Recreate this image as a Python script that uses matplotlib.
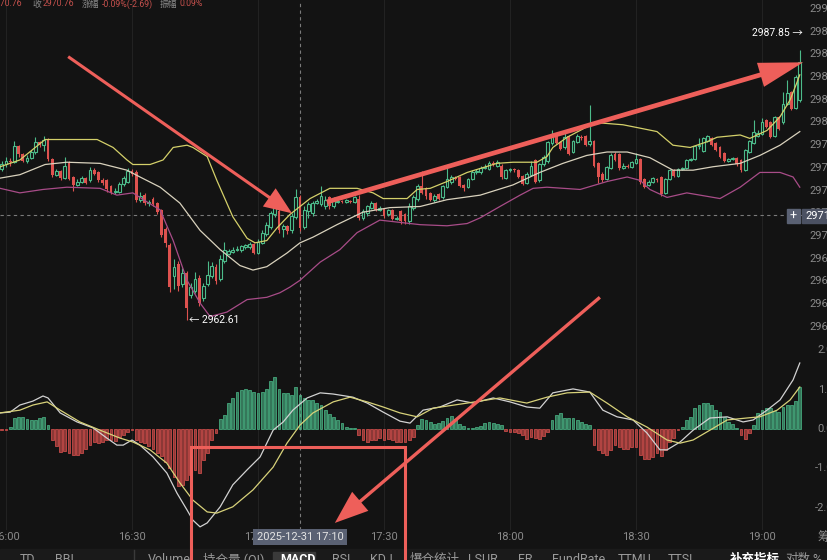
import matplotlib
matplotlib.use("Agg")
import matplotlib.pyplot as plt
import matplotlib.patches as mpatches
from matplotlib.colors import to_rgb
import numpy as np

# 1-minute candles, x = minutes counted from 16:00 (-1 = 15:59 ... 189 = 19:09)
minutes = np.arange(-1, 190)

opens = [
    2975.9, 2976.3, 2976.6, 2976.5, 2977.9, 2977.2, 2976.6, 2976.9, 2977.4, 2978.3,
    2978.0, 2978.5, 2976.8, 2975.4, 2975.7, 2975.1, 2976.4, 2975.2, 2974.5, 2974.8,
    2975.1, 2974.9, 2975.8, 2975.6, 2974.9, 2974.9, 2974.4, 2973.9, 2973.9, 2974.6,
    2974.8, 2975.7, 2975.6, 2973.2, 2973.6, 2972.9, 2973.3, 2972.9, 2972.3, 2970.6,
    2969.2, 2966.5, 2967.5, 2965.8, 2966.7, 2964.8, 2965.2, 2966.3, 2964.5, 2965.8,
    2966.5, 2967.3, 2966.2, 2967.8, 2968.4, 2968.6, 2968.8, 2968.8, 2969.0, 2969.0,
    2969.3, 2968.5, 2969.4, 2970.2, 2970.8, 2971.9, 2972.2, 2970.6, 2970.9, 2970.5,
    2971.7, 2973.4, 2970.8, 2972.2, 2972.0, 2972.9, 2972.8, 2972.6, 2973.4, 2972.6,
    2973.0, 2973.1, 2973.0, 2973.1, 2973.0, 2973.3, 2971.6, 2972.0, 2972.5, 2972.9,
    2972.3, 2972.4, 2971.9, 2972.3, 2971.5, 2972.2, 2971.9, 2971.3, 2972.5, 2973.3,
    2974.4, 2974.2, 2973.8, 2973.2, 2973.7, 2973.4, 2974.3, 2974.8, 2975.1, 2975.2,
    2974.5, 2974.3, 2975.0, 2975.6, 2975.6, 2976.0, 2975.9, 2976.4, 2976.2, 2976.2,
    2975.1, 2975.8, 2975.9, 2975.8, 2975.3, 2974.7, 2975.4, 2976.7, 2974.9, 2976.3,
    2976.6, 2978.2, 2979.0, 2978.3, 2977.8, 2978.8, 2977.4, 2978.3, 2978.7, 2978.8,
    2978.1, 2978.4, 2976.4, 2975.5, 2975.0, 2976.0, 2977.2, 2977.2, 2976.0, 2976.2,
    2976.1, 2976.4, 2976.8, 2975.0, 2974.5, 2974.8, 2975.0, 2975.2, 2973.8, 2975.0,
    2975.8, 2975.3, 2975.9, 2976.0, 2976.7, 2976.8, 2977.9, 2977.5, 2978.4, 2978.6,
    2978.2, 2977.8, 2977.3, 2976.6, 2976.8, 2976.9, 2976.7, 2975.8, 2977.4, 2978.2,
    2978.8, 2979.0, 2980.2, 2980.0, 2978.8, 2980.5, 2980.0, 2981.6, 2982.7, 2981.3,
    2982.0,
]
highs = [
    2976.6, 2977.0, 2976.9, 2978.4, 2978.0, 2977.3, 2977.1, 2977.6, 2978.7, 2978.4,
    2978.8, 2978.6, 2976.9, 2975.9, 2975.8, 2977.0, 2976.6, 2975.3, 2975.0, 2975.3,
    2975.2, 2976.1, 2976.0, 2975.7, 2975.1, 2975.0, 2974.5, 2974.2, 2974.8, 2975.3,
    2976.0, 2975.9, 2975.8, 2973.9, 2973.8, 2973.2, 2973.4, 2973.0, 2972.4, 2970.8,
    2969.4, 2968.0, 2967.8, 2967.2, 2966.9, 2965.9, 2966.8, 2966.6, 2965.9, 2967.8,
    2967.7, 2967.5, 2968.3, 2969.5, 2968.9, 2969.0, 2969.1, 2969.2, 2969.3, 2969.5,
    2969.4, 2969.7, 2970.5, 2971.2, 2972.2, 2973.2, 2973.2, 2971.1, 2971.0, 2972.0,
    2974.1, 2973.6, 2972.6, 2973.0, 2973.1, 2973.3, 2974.4, 2973.5, 2973.5, 2973.4,
    2973.3, 2973.2, 2973.3, 2973.2, 2973.5, 2973.6, 2972.4, 2972.7, 2973.1, 2973.0,
    2972.6, 2972.5, 2972.4, 2972.4, 2971.8, 2972.3, 2972.0, 2972.9, 2973.6, 2974.6,
    2975.7, 2974.3, 2973.9, 2973.7, 2973.8, 2974.5, 2976.0, 2975.4, 2975.3, 2975.3,
    2974.6, 2975.1, 2975.8, 2975.9, 2976.2, 2976.3, 2976.6, 2976.6, 2976.7, 2976.3,
    2975.9, 2976.0, 2976.0, 2975.9, 2975.4, 2975.6, 2976.6, 2976.8, 2976.4, 2977.1,
    2978.4, 2979.3, 2979.1, 2978.4, 2979.2, 2978.9, 2978.5, 2979.0, 2978.9, 2978.9,
    2981.5, 2978.5, 2976.5, 2975.6, 2976.2, 2977.3, 2977.4, 2977.3, 2976.4, 2976.3,
    2976.6, 2977.3, 2976.9, 2975.1, 2974.9, 2975.2, 2975.1, 2975.3, 2975.1, 2975.9,
    2975.9, 2976.0, 2976.1, 2976.8, 2976.9, 2978.0, 2978.6, 2978.7, 2978.9, 2978.7,
    2978.3, 2977.9, 2977.4, 2976.9, 2977.0, 2977.0, 2976.8, 2977.7, 2978.5, 2980.2,
    2979.3, 2980.4, 2980.3, 2980.1, 2980.6, 2980.6, 2982.7, 2983.7, 2982.8, 2984.2,
    2986.4,
]
lows = [
    2975.7, 2976.1, 2976.2, 2976.4, 2977.0, 2976.5, 2976.4, 2976.8, 2977.2, 2977.8,
    2977.5, 2976.6, 2975.2, 2975.3, 2974.9, 2975.0, 2974.9, 2974.0, 2974.4, 2974.7,
    2974.6, 2974.8, 2975.4, 2974.8, 2974.5, 2973.9, 2973.7, 2973.7, 2973.8, 2974.4,
    2974.7, 2975.3, 2973.0, 2973.0, 2972.7, 2972.6, 2972.6, 2971.9, 2969.9, 2969.0,
    2965.1, 2965.3, 2965.2, 2965.5, 2962.6, 2964.5, 2965.0, 2963.8, 2964.3, 2965.6,
    2966.3, 2965.8, 2966.0, 2967.6, 2968.3, 2968.5, 2968.7, 2968.6, 2968.9, 2968.9,
    2968.4, 2968.4, 2969.3, 2970.0, 2970.6, 2971.7, 2970.3, 2969.9, 2970.2, 2970.3,
    2971.5, 2970.4, 2970.6, 2971.6, 2971.8, 2972.8, 2972.6, 2972.4, 2972.4, 2972.5,
    2972.9, 2972.9, 2972.9, 2972.9, 2972.9, 2971.4, 2971.4, 2971.8, 2972.4, 2972.2,
    2972.2, 2971.6, 2971.8, 2971.4, 2971.4, 2971.1, 2971.1, 2971.1, 2972.3, 2973.1,
    2973.7, 2973.3, 2973.1, 2973.0, 2973.2, 2973.3, 2974.2, 2974.6, 2974.9, 2974.3,
    2974.0, 2974.2, 2974.9, 2975.5, 2975.5, 2975.9, 2975.8, 2976.2, 2976.1, 2975.0,
    2975.0, 2975.6, 2975.6, 2975.1, 2974.5, 2974.6, 2975.3, 2974.7, 2974.8, 2976.2,
    2976.4, 2978.0, 2978.1, 2977.6, 2977.7, 2977.1, 2977.3, 2978.2, 2978.5, 2977.9,
    2977.9, 2976.1, 2974.7, 2974.8, 2974.9, 2975.9, 2976.6, 2975.8, 2975.9, 2976.0,
    2976.0, 2976.3, 2974.6, 2974.2, 2974.4, 2974.7, 2974.8, 2973.5, 2973.7, 2974.9,
    2975.2, 2975.2, 2975.8, 2975.9, 2976.6, 2976.7, 2977.7, 2977.4, 2978.3, 2977.9,
    2977.5, 2976.9, 2976.5, 2976.5, 2976.7, 2976.2, 2975.6, 2975.7, 2977.3, 2978.1,
    2978.7, 2978.9, 2979.5, 2978.6, 2978.7, 2979.3, 2979.9, 2981.5, 2981.1, 2981.2,
    2981.8,
]
closes = [
    2976.3, 2976.6, 2976.5, 2977.9, 2977.2, 2976.6, 2976.9, 2977.4, 2978.3, 2978.0,
    2978.5, 2976.8, 2975.4, 2975.7, 2975.1, 2976.2, 2975.0, 2974.5, 2974.8, 2975.1,
    2974.7, 2975.8, 2975.5, 2974.9, 2974.7, 2974.1, 2973.9, 2974.0, 2974.6, 2975.1,
    2975.7, 2975.5, 2973.2, 2973.5, 2972.9, 2973.0, 2972.8, 2972.1, 2970.1, 2969.4,
    2965.5, 2967.3, 2965.6, 2966.7, 2963.7, 2965.5, 2966.2, 2964.1, 2965.6, 2966.6,
    2967.4, 2966.0, 2968.0, 2968.8, 2968.7, 2968.8, 2968.9, 2969.1, 2969.2, 2969.3,
    2968.5, 2969.5, 2970.3, 2971.0, 2972.0, 2972.8, 2970.5, 2970.9, 2970.4, 2971.8,
    2973.4, 2970.7, 2972.3, 2972.8, 2972.9, 2973.1, 2973.5, 2973.2, 2972.6, 2973.2,
    2973.1, 2973.0, 2973.2, 2973.0, 2973.4, 2971.6, 2972.2, 2972.6, 2972.9, 2972.3,
    2972.5, 2971.8, 2972.3, 2971.5, 2971.6, 2971.3, 2971.3, 2972.6, 2973.4, 2974.4,
    2973.8, 2973.5, 2973.2, 2973.5, 2973.3, 2974.4, 2975.0, 2975.2, 2975.0, 2974.4,
    2974.2, 2975.0, 2975.6, 2975.7, 2976.0, 2976.1, 2976.4, 2976.3, 2976.5, 2975.2,
    2975.8, 2975.9, 2975.8, 2975.2, 2974.6, 2975.5, 2976.2, 2974.8, 2976.3, 2977.0,
    2978.3, 2979.0, 2978.2, 2977.7, 2978.7, 2977.2, 2978.4, 2978.8, 2978.6, 2978.0,
    2978.4, 2976.2, 2975.2, 2974.9, 2976.1, 2977.1, 2976.7, 2976.0, 2976.2, 2976.1,
    2976.5, 2976.8, 2974.8, 2974.3, 2974.8, 2975.1, 2974.9, 2973.7, 2975.0, 2975.8,
    2975.3, 2975.9, 2976.0, 2976.7, 2976.8, 2977.9, 2978.0, 2978.6, 2978.8, 2978.0,
    2977.6, 2977.0, 2976.6, 2976.8, 2976.9, 2976.3, 2975.8, 2977.6, 2978.4, 2979.2,
    2979.1, 2980.0, 2979.6, 2978.7, 2980.5, 2979.4, 2981.6, 2982.6, 2981.2, 2984.0,
    2985.3,
]

# Bollinger bands at sample minutes
upper_t = [-1.4, 3.3, 9.3, 14.5, 21.7, 25.5, 28.8, 30.2, 34.3, 37.4,
           39.8, 43.1, 44.5, 47.9, 50.2, 54.0, 57.4, 59.3, 62.1, 64.5,
           67.6, 70.0, 72.4, 77.1, 83.6, 87.4, 89.8, 95.5, 97.9, 101.0,
           105.0, 109.8, 116.9, 120.7, 126.4, 128.8, 130.2, 133.6, 136.7, 140.2,
           146.9, 151.0, 155.0, 158.8, 162.9, 166.9, 169.3, 174.8, 177.1, 181.2,
           184.3, 186.7, 188.3, 189.0]
upper_p = [2976.1, 2976.7, 2978.5, 2978.5, 2978.5, 2977.8, 2976.7, 2976.3, 2976.3, 2976.7,
           2977.8, 2978.0, 2977.8, 2977.0, 2974.9, 2971.7, 2969.8, 2969.4, 2969.6, 2970.7,
           2971.9, 2972.6, 2973.3, 2974.2, 2974.2, 2973.8, 2973.3, 2973.3, 2974.1, 2974.2,
           2974.8, 2975.6, 2976.4, 2976.5, 2976.5, 2977.0, 2977.8, 2978.7, 2979.3, 2980.0,
           2979.8, 2979.5, 2979.2, 2978.0, 2977.8, 2978.3, 2978.7, 2978.9, 2978.6, 2979.3,
           2980.5, 2982.0, 2983.5, 2984.2]
mid_t = [-1.4, 3.3, 9.3, 14.5, 22.4, 28.8, 31.9, 36.7, 41.4, 46.2,
         51.0, 55.7, 58.8, 62.1, 66.9, 70.0, 73.1, 78.8, 85.0, 91.4,
         98.6, 105.0, 112.9, 120.7, 127.1, 132.6, 138.3, 143.1, 147.9, 153.3,
         158.8, 163.6, 168.3, 174.8, 179.5, 184.3, 189.0]
mid_p = [2975.1, 2975.4, 2976.3, 2976.5, 2976.4, 2975.8, 2975.2, 2974.3, 2972.9, 2970.5,
         2968.8, 2967.4, 2967.0, 2967.3, 2968.5, 2969.4, 2969.9, 2971.0, 2972.1, 2972.5,
         2972.6, 2973.2, 2973.6, 2974.5, 2975.6, 2976.4, 2977.1, 2977.4, 2977.4, 2976.9,
         2975.8, 2975.8, 2976.1, 2976.4, 2977.1, 2978.0, 2979.2]
lower_t = [-1.4, 3.3, 8.8, 14.5, 22.4, 26.4, 30.2, 33.6, 36.7, 39.8,
           43.1, 46.2, 48.6, 52.6, 57.4, 62.1, 65.2, 67.6, 70.0, 74.8,
           79.5, 83.6, 89.0, 93.8, 98.6, 105.0, 109.8, 112.9, 117.6, 122.4,
           125.5, 128.8, 136.7, 143.1, 147.9, 151.0, 153.3, 157.4, 162.1, 170.0,
           174.8, 179.5, 184.3, 187.4, 189.0]
lower_p = [2974.2, 2973.8, 2974.1, 2974.3, 2974.2, 2973.6, 2973.8, 2973.0, 2972.3, 2969.6,
           2966.1, 2964.1, 2962.9, 2963.3, 2964.4, 2964.6, 2965.0, 2965.5, 2966.1, 2967.7,
           2968.8, 2970.3, 2971.4, 2971.2, 2971.0, 2970.9, 2971.1, 2971.6, 2972.6, 2973.6,
           2974.2, 2974.3, 2974.1, 2974.8, 2975.2, 2974.9, 2974.1, 2973.4, 2973.8, 2973.3,
           2974.3, 2975.6, 2975.6, 2975.2, 2974.3]

# MACD histogram, one bar per candle
macd_hist = [
    -0.02, -0.02, 0.05, 0.27, 0.31, 0.30, 0.25, 0.23, 0.23, 0.27,
    0.31, 0.10, -0.28, -0.43, -0.58, -0.55, -0.62, -0.66, -0.66, -0.60,
    -0.52, -0.41, -0.32, -0.36, -0.32, -0.28, -0.28, -0.30, -0.21, -0.15,
    -0.07, -0.03, -0.28, -0.32, -0.36, -0.43, -0.52, -0.62, -0.69, -0.83,
    -1.00, -1.21, -1.45, -1.42, -1.30, -1.17, -1.04, -1.13, -0.79, -0.62,
    -0.28, -0.11, 0.25, 0.36, 0.65, 0.78, 0.93, 0.99, 1.01, 0.99,
    0.93, 0.92, 0.95, 1.03, 1.23, 1.33, 1.03, 0.91, 0.91, 0.87,
    1.08, 0.87, 0.78, 0.74, 0.75, 0.65, 0.61, 0.48, 0.38, 0.31,
    0.23, 0.16, 0.06, 0.03, 0.02, -0.15, -0.28, -0.32, -0.28, -0.28,
    -0.24, -0.28, -0.26, -0.28, -0.32, -0.34, -0.32, -0.28, -0.21, 0.10,
    0.25, 0.23, 0.19, 0.14, 0.16, 0.21, 0.27, 0.33, 0.25, 0.14,
    0.08, 0.03, 0.03, 0.06, 0.08, 0.16, 0.19, 0.16, 0.14, 0.10,
    -0.04, -0.07, -0.07, -0.09, -0.15, -0.26, -0.20, -0.24, -0.26, -0.18,
    -0.07, 0.23, 0.36, 0.40, 0.27, 0.27, 0.27, 0.23, 0.19, 0.14,
    0.10, -0.41, -0.53, -0.60, -0.66, -0.53, -0.41, -0.47, -0.52, -0.52,
    -0.47, -0.47, -0.66, -0.77, -0.77, -0.70, -0.62, -0.69, -0.53, -0.32,
    -0.24, -0.03, 0.06, 0.23, 0.31, 0.53, 0.61, 0.67, 0.67, 0.61,
    0.48, 0.44, 0.31, 0.19, 0.14, 0.02, -0.15, -0.26, -0.11, 0.10,
    0.40, 0.48, 0.53, 0.53, 0.47, 0.44, 0.57, 0.61, 0.61, 0.70,
    1.08,
]
dif_t = [-1.4, 1.0, 3.3, 6.4, 8.8, 10.0, 12.9, 16.9, 20.7, 24.0,
         26.4, 27.9, 30.0, 31.9, 35.0, 38.3, 40.7, 43.1, 44.5, 46.2,
         47.9, 51.0, 54.0, 57.4, 60.5, 63.6, 66.0, 68.3, 71.7, 74.8,
         77.9, 82.6, 86.0, 89.8, 93.8, 96.2, 99.3, 103.3, 107.4, 111.2,
         116.0, 120.0, 124.0, 127.1, 130.2, 135.0, 139.0, 142.1, 145.5, 149.3,
         152.6, 155.7, 157.4, 160.5, 163.6, 167.6, 171.7, 175.5, 177.9, 181.2,
         184.3, 187.4, 189.0]
dif_v = [0.41, 0.43, 0.61, 0.71, 0.84, 0.79, 0.41, 0.18, 0.03, -0.23,
         -0.41, -0.41, -0.28, -0.41, -0.71, -1.12, -1.63, -2.06, -2.32, -2.49,
         -2.39, -1.98, -1.42, -1.04, -0.71, -0.03, 0.18, 0.48, 0.79, 0.92,
         0.89, 0.81, 0.66, 0.43, 0.20, 0.15, 0.48, 0.56, 0.74, 0.66,
         0.79, 0.69, 0.56, 0.53, 0.92, 1.02, 0.94, 0.48, 0.31, 0.23,
         -0.10, -0.53, -0.53, -0.33, -0.03, 0.28, 0.31, 0.18, 0.23, 0.48,
         0.74, 1.25, 1.68]
dea_t = [-1.4, 3.3, 6.4, 9.8, 12.9, 17.6, 22.4, 27.1, 30.2, 34.3,
         38.3, 41.4, 44.5, 47.9, 50.2, 54.0, 58.8, 63.6, 66.9, 70.0,
         73.1, 77.9, 81.9, 86.0, 89.8, 93.8, 97.9, 101.7, 109.8, 117.6,
         124.0, 128.8, 133.6, 139.0, 143.1, 147.9, 152.6, 157.4, 160.5, 163.6,
         167.6, 171.7, 176.4, 179.5, 183.6, 186.7, 189.0]
dea_v = [0.41, 0.48, 0.61, 0.69, 0.48, 0.18, -0.03, -0.23, -0.33, -0.53,
         -0.87, -1.37, -1.81, -2.11, -2.14, -1.98, -1.55, -0.97, -0.36, 0.10,
         0.41, 0.69, 0.81, 0.69, 0.56, 0.41, 0.31, 0.53, 0.66, 0.79,
         0.66, 0.81, 0.92, 0.94, 0.66, 0.31, 0.05, -0.28, -0.36, -0.28,
         -0.03, 0.23, 0.28, 0.31, 0.48, 0.74, 1.07]

price_ticks = list(range(2962, 2991, 2))
macd_ticks = [2.0, 1.0, 0.0, -1.0, -2.0]
macd_tick_labels = ["2.0", "1.0", "0.0", "-1.0", "-2.0"]
time_ticks = [0, 30, 60, 90, 120, 150, 180]
time_labels = ["16:00", "16:30", "17:00", "17:30", "18:00", "18:30", "19:00"]
cross_minute = 70
cross_price = 2971.85
high_mark = 2987.85
low_mark = 2962.61
tabs = [("TD", 20), ("BBI", 55), ("Volume", 148), ("持仓量 (OI)", 203), ("MACD", 280),
        ("RSI", 332), ("KDJ", 370), ("爆仓统计", 410), ("LSUR", 468), ("FR", 518),
        ("FundRate", 552), ("TTMU", 618), ("TTSL", 668), ("补充指标", 730),
        ("对数", 785), ("%", 812)]

BG = "#131313"
UP = "#4cbb8a"
DOWN = "#de524f"
GRID = "#222222"
TXT = "#8a8a8a"
ARROW = "#ee5f5a"

plt.rcParams["font.family"] = ["Roboto", "Noto Sans CJK SC", "DejaVu Sans"]

W, H = 828, 560
fig = plt.figure(figsize=(W / 100, H / 100), dpi=100, facecolor=BG)


def axes_px(x0, y0, x1, y1):
    ax = fig.add_axes([x0 / W, 1 - y1 / H, (x1 - x0) / W, (y1 - y0) / H])
    ax.axis("off")
    return ax


def ftext(x, y, s, **kw):
    return fig.text(x / W, 1 - y / H, s, **kw)


ax_p = axes_px(0, 0, 805, 340)
ax_m = axes_px(0, 340, 805, 530)

xlim = (-1.43, 190.24)
ax_p.set_xlim(*xlim)
ax_m.set_xlim(*xlim)
ax_p.set_ylim(2960.84, 2990.79)
ax_m.set_ylim(-2.57, 2.265)

for ax in (ax_p, ax_m):
    for tt in time_ticks:
        ax.axvline(tt, color=GRID, lw=0.8, zorder=0)
    ax.axvline(cross_minute, color="#7a7a7a", lw=0.8, ls=(0, (3, 3)), zorder=1)
ax_p.axhline(cross_price, color="#7a7a7a", lw=0.8, ls=(0, (3, 3)), zorder=1)

# candles
o, h, l, c = (np.array(v) for v in (opens, highs, lows, closes))
up = c >= o
ax_p.vlines(minutes, l, h, colors=np.where(up, UP, DOWN), lw=0.8, zorder=2)
body = np.maximum(np.abs(c - o), 0.06)
ax_p.bar(minutes[up], body[up], bottom=o[up], width=0.7, facecolor=BG,
         edgecolor=UP, lw=0.8, zorder=3)
ax_p.bar(minutes[~up], body[~up], bottom=c[~up], width=0.7, color=DOWN,
         lw=0, zorder=3)

ax_p.plot(upper_t, upper_p, color="#d4d06a", lw=0.9, zorder=4)
ax_p.plot(mid_t, mid_p, color="#d9d2bd", lw=0.9, zorder=4)
ax_p.plot(lower_t, lower_p, color="#a84c88", lw=0.9, zorder=4)

ax_p.text(189.6, high_mark, "%.2f →" % high_mark, ha="right", va="center",
          color="white", fontsize=7.5, zorder=6)
ax_p.text(43.6, low_mark, "← %.2f" % low_mark, ha="left", va="center",
          color="white", fontsize=7.5, zorder=6)

ytr = ax_p.get_yaxis_transform()
for p in price_ticks:
    ax_p.text(809 / 805, p, str(p), transform=ytr, ha="left", va="center",
              color=TXT, fontsize=8, clip_on=False)

# MACD
hist = np.array(macd_hist)
pos = hist >= 0
ax_m.bar(minutes[pos], hist[pos], width=0.7, facecolor=(*to_rgb(UP), 0.6),
         edgecolor=UP, lw=0.5, zorder=2)
ax_m.bar(minutes[~pos], hist[~pos], width=0.7, facecolor=(*to_rgb(DOWN), 0.6),
         edgecolor=DOWN, lw=0.5, zorder=2)
ax_m.plot(dif_t, dif_v, color="#d2d2d2", lw=0.9, zorder=3)
ax_m.plot(dea_t, dea_v, color="#d8d27a", lw=0.9, zorder=3)

ytr_m = ax_m.get_yaxis_transform()
for v, s in zip(macd_ticks, macd_tick_labels):
    ax_m.text(833 / 805, v, s, transform=ytr_m, ha="right", va="center",
              color=TXT, fontsize=8, clip_on=False)

# time axis
for tt, s in zip(time_ticks, time_labels):
    ftext(6 + 4.2 * tt, 537, s, ha="center", va="center", color=TXT, fontsize=8)
ftext(818, 537, "筹", ha="left", va="center", color=TXT, fontsize=9)
ftext(300, 537, "2025-12-31 17:10", ha="center", va="center", color="#e4e4e4",
      fontsize=8, zorder=5,
      bbox=dict(boxstyle="square,pad=0.3", fc="#5a6173", ec="none"))

# crosshair price tag on the right
fig.add_artist(mpatches.Rectangle((787 / W, 1 - 223 / H), 13 / W, 14 / H,
                                  transform=fig.transFigure, color="#5a6173", zorder=5))
fig.add_artist(mpatches.Rectangle((802 / W, 1 - 223 / H), 30 / W, 14 / H,
                                  transform=fig.transFigure, color="#4b5162", zorder=5))
ftext(793.5, 216, "+", ha="center", va="center", color="white", fontsize=9, zorder=6)
ftext(805, 216, "%.2f" % cross_price, ha="left", va="center", color="white",
      fontsize=8, zorder=6)

# header line (cut at the top and left)
header = [("2970.76", 22, "right", "#c4504c"), ("收", 32, "left", TXT),
          ("2970.76", 43, "left", "#c4504c"), ("涨幅", 82, "left", TXT),
          ("-0.09%(-2.69)", 102, "left", "#c4504c"), ("振幅", 160, "left", TXT),
          ("0.09%", 180, "left", "#c4504c")]
for s, x, ha, col in header:
    ftext(x, 4, s, ha=ha, va="center", color=col, fontsize=6.3)

# bottom tab bar (cut at the bottom)
fig.add_artist(mpatches.Rectangle((0, 0), 1, 11 / H, transform=fig.transFigure,
                                  color="#1a1a1a", zorder=1))
fig.add_artist(mpatches.Rectangle((273 / W, 0), 42 / W, 8 / H, transform=fig.transFigure,
                                  color="#3a3a3a", zorder=1))
fig.add_artist(matplotlib.lines.Line2D([134 / W, 134 / W], [0, 10 / H],
                                       transform=fig.transFigure, color="#3a3a3a", lw=1))
for s, x in tabs:
    bold = s in ("MACD", "补充指标")
    ftext(x, 553, s, ha="left", va="top", color="white" if bold else "#9a9a9a",
          fontsize=9, fontweight="bold" if bold else "normal")

# hand-drawn red annotations
def red_arrow(xy_a, ax_a, xy_b, ax_b, hl, hw, tw):
    cp = mpatches.ConnectionPatch(
        xy_a, xy_b, coordsA=ax_a.transData, coordsB=ax_b.transData,
        arrowstyle=mpatches.ArrowStyle.Simple(head_length=hl, head_width=hw, tail_width=tw),
        mutation_scale=20, color=ARROW, lw=0, shrinkA=0, shrinkB=0, zorder=20)
    fig.add_artist(cp)


red_arrow((14.8, 2985.8), ax_p, (68.1, 2972.0), ax_p, 1.0, 0.8, 0.11)
red_arrow((76.4, 2973.0), ax_p, (189.8, 2985.3), ax_p, 1.6, 0.9, 0.17)
red_arrow((141.4, 2964.6), ax_p, (78.3, -2.39), ax_m, 1.2, 0.9, 0.12)
fig.add_artist(mpatches.Rectangle((44.05, -3.5), 50.95, 3.04, transform=ax_m.transData,
                                  fill=False, ec=ARROW, lw=2.2, zorder=20))

fig.savefig("out.png", dpi=100, facecolor=BG)
